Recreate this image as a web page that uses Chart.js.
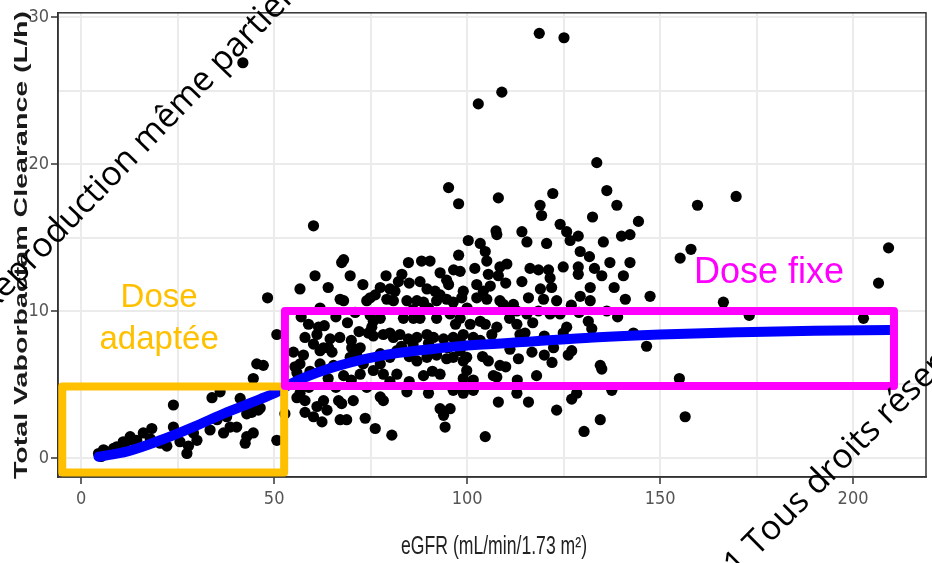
<!DOCTYPE html>
<html>
<head>
<meta charset="utf-8">
<script src="https://cdn.jsdelivr.net/npm/chart.js@4.4.1/dist/chart.umd.min.js"></script>
<style>
  html, body { margin: 0; padding: 0; background: #fff; }
  #canvas-container { width: 932px; height: 563px; }
</style>
</head>
<body>
<div id="canvas-container"><canvas id="mycanvas" width="932" height="563"></canvas></div>
<script>
// eGFR (mL/min/1.73 m2) and total clearance (L/h)
const egfr = [
  48.3, 50.7, 45.5, 47.2, 44.6, 33.9, 36.0, 23.9, 41.2, 46.4, 42.9, 44.2, 35.2, 37.7, 33.4, 36.9, 38.6, 29.1, 30.0, 27.4,
  27.8, 25.6, 23.9, 20.5, 17.9, 14.4, 12.7, 10.9, 8.4, 5.8, 4.5, 42.5, 42.9, 50.7, 44.6, 40.3, 22.2, 5.2, 43.8, 45.9,
  44.6, 18.3, 16.1, 13.5, 11.4, 9.2, 6.7, 52.8, 41.9,
  60.2, 97.8, 100.3, 68.0, 67.5, 60.6, 69.7, 56.7, 97.8, 84.8, 88.2, 90.4, 96.5, 98.2, 83.1, 82.2, 87.8, 94.7, 95.2, 77.5,
  80.0, 81.3, 89.6, 91.7, 93.0, 99.0, 98.6, 67.1, 68.0, 74.9, 76.2, 74.0, 79.2, 80.9, 84.4, 87.0, 88.7, 92.1, 94.7, 96.4,
  61.9, 58.9, 61.5, 61.1, 60.2, 64.5, 64.1, 65.0, 55.0, 57.6, 56.7, 55.4, 55.9, 59.3, 61.9, 61.9, 62.8, 70.1, 72.3, 71.4,
  69.7, 74.4, 75.7, 75.3, 75.7, 77.5, 74.9, 78.3, 80.0, 80.9, 82.6, 84.8, 87.0, 89.6, 91.3, 83.5, 86.1, 87.8, 92.1, 95.6,
  98.2, 93.9, 96.4, 98.2, 77.5, 80.0, 81.8, 87.0, 89.6, 92.1, 94.7, 96.4, 99.0, 72.3, 75.7, 73.1, 78.3, 81.8, 77.5, 88.7,
  93.0, 65.4, 68.0, 55.9, 58.0, 56.7, 58.0, 60.2, 61.1, 62.4, 62.8, 63.7, 66.7, 67.5, 67.1, 68.8, 70.5, 73.6, 76.2, 77.5,
  78.3, 80.5, 84.4, 90.0, 93.0, 93.9, 95.6, 94.3, 96.4, 99.0, 95.2,
  118.7, 125.1, 109.0, 102.9, 133.6, 108.1, 122.2, 136.2, 138.8, 118.9, 119.3, 132.5, 144.4, 107.5, 107.7, 114.2, 115.5, 124.1, 125.8, 126.7,
  120.6, 128.8, 135.3, 140.0, 142.2, 103.4, 104.7, 105.1, 129.3, 131.7, 142.2, 108.5, 110.3, 105.5, 108.1, 116.3, 118.5, 121.1, 121.5, 121.9,
  124.9, 128.8, 128.8, 114.2, 134.9, 140.5, 138.1, 102.5, 104.2, 102.5, 105.1, 108.5, 112.0, 115.9, 119.8, 123.2, 129.3, 131.9, 131.9, 147.4,
  136.2, 100.8, 103.4, 104.7, 99.0, 101.6, 103.4, 106.4, 107.7, 109.4, 112.9, 115.5, 112.9, 113.7, 115.0, 118.5, 121.5, 124.1, 125.8, 124.9,
  98.2, 99.9, 101.6, 99.0, 105.5, 108.5, 106.8, 107.7, 111.1, 113.3, 116.8, 122.4, 126.2, 127.1, 134.5, 134.9, 143.1, 146.5, 131.4, 132.3,
  108.1, 115.9, 112.9, 123.2, 127.1, 128.4, 104.7, 130.3, 134.5, 137.5, 101.6, 99.9,
  169.7, 159.7, 209.2, 158.0, 155.2, 206.6, 166.4, 173.1, 202.7, 155.0, 156.5,
  71.0, 73.0, 79.0, 85.0, 86.0, 90.0, 93.0, 72.0, 69.0, 66.0, 64.0, 63.0, 67.0, 70.0, 83.0, 85.0, 86.0, 90.0, 95.0, 97.0,
  91.0, 85.0, 80.0, 74.0, 70.0, 66.0, 64.0, 59.0, 57.0, 58.0, 100.0, 102.0, 106.0, 110.0, 111.0, 117.0, 119.0, 120.0, 122.0, 118.0,
  129.0, 127.0, 133.0, 137.0, 139.0, 141.0, 120.0, 110.0, 104.0, 113.0
];
const clearance = [
  10.9, 8.4, 6.4, 6.3, 5.4, 4.1, 4.5, 3.6, 4.05, 3.4, 3.0, 3.1, 2.6, 2.8, 1.9, 1.7, 2.1, 1.7, 1.2, 0.3,
  0.8, 1.1, 2.1, 1.0, 1.3, 1.2, 1.45, 1.1, 0.65, 0.55, 0.3, 1.0, 1.45, 1.2, 3.5, 2.1, 0.8, 0.1, 3.35, 3.25,
  1.7, 2.0, 1.7, 1.2, 1.0, 0.75, 0.4, 3.0, 26.9,
  15.8, 17.3, 14.8, 13.5, 13.3, 12.4, 12.4, 11.5, 13.8, 13.3, 13.4, 13.4, 12.8, 12.7, 12.5, 12.0, 12.0, 12.1, 11.8, 11.6,
  11.5, 11.35, 11.5, 11.35, 11.1, 11.35, 10.9, 10.8, 10.7, 10.9, 11.1, 10.7, 10.8, 10.7, 10.7, 10.7, 10.6, 10.7, 10.8, 10.6,
  10.2, 9.1, 8.9, 8.4, 7.75, 8.1, 7.5, 7.2, 7.2, 7.0, 6.4, 6.2, 5.8, 5.9, 6.4, 7.3, 7.5, 7.5, 7.5, 7.0,
  6.85, 8.5, 8.3, 8.9, 9.3, 9.5, 9.7, 8.4, 8.5, 8.2, 8.4, 8.1, 8.2, 8.4, 8.2, 9.5, 9.5, 9.5, 9.5, 9.8,
  9.5, 8.1, 8.2, 8.0, 7.1, 6.85, 7.3, 6.6, 6.85, 7.0, 6.75, 6.85, 6.6, 5.7, 5.95, 6.4, 5.7, 5.7, 6.4, 5.6,
  5.7, 6.3, 5.6, 4.1, 3.9, 4.4, 3.1, 2.8, 3.5, 2.45, 3.9, 3.25, 3.9, 3.7, 2.6, 2.6, 3.9, 2.7, 2.0, 4.15,
  3.9, 1.55, 4.5, 4.4, 3.35, 2.9, 3.35, 2.1, 4.6, 4.4, 18.4,
  28.9, 28.6, 24.9, 24.1, 20.1, 17.7, 18.0, 18.2, 17.2, 17.2, 16.5, 16.4, 16.1, 15.45, 15.2, 15.4, 14.7, 15.9, 15.4, 14.8,
  14.6, 15.1, 14.7, 15.1, 15.2, 14.6, 14.05, 13.4, 14.05, 13.7, 13.3, 13.0, 13.2, 12.5, 12.4, 12.9, 12.8, 12.8, 12.25, 11.6,
  13.0, 13.0, 12.5, 12.0, 12.4, 12.4, 11.6, 11.8, 11.35, 10.9, 10.8, 10.7, 10.45, 10.9, 10.8, 10.7, 11.0, 11.6, 10.7, 11.0,
  10.0, 9.1, 9.3, 9.1, 8.4, 8.2, 8.0, 8.4, 8.9, 10.45, 10.0, 9.8, 9.1, 8.4, 8.5, 10.0, 9.8, 9.8, 8.9, 8.5,
  7.3, 5.95, 5.3, 5.4, 6.6, 6.3, 5.6, 5.5, 7.4, 6.75, 7.2, 7.5, 7.0, 7.3, 6.3, 6.05, 8.5, 7.6, 9.3, 8.8,
  3.8, 3.8, 4.4, 3.25, 4.0, 4.4, 1.45, 1.8, 2.6, 4.6, 4.6, 6.85,
  17.8, 17.2, 14.3, 14.2, 13.6, 11.9, 10.6, 9.7, 9.5, 5.4, 2.8,
  9.9, 11.8, 12.4, 11.9, 10.1, 10.2, 12.6, 8.6, 9.2, 9.6, 11.6, 9.0, 8.2, 8.0, 7.6, 6.9, 7.7, 7.8, 7.5, 9.1,
  5.9, 5.2, 5.2, 4.8, 5.3, 4.8, 5.4, 4.8, 9.6, 8.2, 10.2, 12.9, 11.7, 11.9, 9.5, 9.2, 11.5, 8.3, 6.5, 5.6,
  9.9, 10.4, 12.9, 13.3, 9.6, 10.8, 7.0, 6.2, 6.9, 5.3
];

// smooth trend (blue curve)
const fitEgfr = [4.5, 12, 20.5, 29, 37.7, 46.4, 51.6, 54, 64.5, 77.5, 90.4, 100, 115.5, 132.7, 150, 170.7, 190, 209.5];
const fitClearance = [0.08, 0.45, 1.2, 2.1, 3.1, 4.0, 4.6, 5.0, 6.1, 6.95, 7.4, 7.65, 7.9, 8.2, 8.4, 8.55, 8.65, 8.7];

// grid lines and the subset that carries a label
const xGrid = [0, 25, 50, 75, 100, 125, 150, 175, 200];
const xLabels = [0, 50, 100, 150, 200];
const yGrid = [0, 5, 10, 15, 20, 25, 30];
const yLabels = [0, 10, 20, 30];

// the two dosing zones drawn over the plot
const bandNames = [["Dose", "adaptée"], ["Dose fixe"]];
const bandEgfr = [[-4.9, 52.6], [52.8, 210.6]];
const bandClearance = [[-1.0, 4.86], [4.9, 10.0]];

const narrow = "'Liberation Sans Narrow', 'DejaVu Sans Condensed', 'Arial Narrow', sans-serif";

const points = egfr.map((x, i) => ({ x: x, y: clearance[i] }));
const fit = fitEgfr.map((x, i) => ({ x: x, y: fitClearance[i] }));

const extras = {
  id: "extras",
  afterDatasetsDraw(chart) {
    const { ctx, chartArea: a, scales } = chart;
    const x = scales.x, y = scales.y;
    ctx.save();
    // panel frame
    ctx.strokeStyle = "#333333";
    ctx.lineWidth = 1.5;
    ctx.strokeRect(a.left, a.top, a.right - a.left, a.bottom - a.top);

    const colors = ["#ffc000", "#ff00ff"];
    bandNames.forEach((name, i) => {
      const l = x.getPixelForValue(bandEgfr[i][0]);
      const r = x.getPixelForValue(bandEgfr[i][1]);
      const t = y.getPixelForValue(bandClearance[i][1]);
      const b = y.getPixelForValue(bandClearance[i][0]);
      ctx.strokeStyle = colors[i];
      ctx.lineWidth = 8;
      ctx.lineJoin = "round";
      ctx.strokeRect(l, t, r - l, b - t);
    });

    ctx.textAlign = "center";
    ctx.textBaseline = "middle";
    ctx.fillStyle = colors[0];
    ctx.font = "33px 'Liberation Sans', Arial, sans-serif";
    ctx.fillText(bandNames[0][0], x.getPixelForValue(20.2), y.getPixelForValue(10.9));
    ctx.fillText(bandNames[0][1], x.getPixelForValue(20.2), y.getPixelForValue(8.0));
    ctx.fillStyle = colors[1];
    ctx.font = "36px 'Liberation Sans', Arial, sans-serif";
    ctx.fillText(bandNames[1][0], x.getPixelForValue(178.2), y.getPixelForValue(12.6));
    ctx.restore();
  },
  afterDraw(chart) {
    const ctx = chart.ctx;
    ctx.save();
    ctx.textAlign = "center";
    ctx.textBaseline = "middle";

    // y title, stretched like the source image
    ctx.save();
    ctx.translate(22, 245);
    ctx.rotate(-Math.PI / 2);
    ctx.font = "bold 19px 'Liberation Sans', Arial, sans-serif";
    const yt = "Total Vaborbactam Clearance (L/h)";
    ctx.scale(468 / ctx.measureText(yt).width, 1);
    ctx.fillStyle = "#1a1a1a";
    ctx.fillText(yt, 0, 0);
    ctx.restore();

    // x title
    ctx.save();
    ctx.translate(494, 547);
    ctx.font = "18px 'Liberation Sans', Arial, sans-serif";
    const xt = "eGFR (mL/min/1.73 m²)";
    ctx.scale(186 / ctx.measureText(xt).width, 1.4);
    ctx.fillStyle = "#222222";
    ctx.fillText(xt, 0, 0);
    ctx.restore();

    // watermark text across the picture
    ctx.textAlign = "left";
    ctx.textBaseline = "alphabetic";
    ctx.fillStyle = "#000000";
    ctx.font = "34px 'Open Sans', 'Noto Sans', sans-serif";
    ctx.save();
    ctx.translate(18, 286);
    ctx.rotate(-46 * Math.PI / 180);
    ctx.fillText("Reproduction même partielle interdite", -ctx.measureText("Re").width, 0);
    ctx.restore();
    ctx.save();
    ctx.translate(737, 577);
    ctx.rotate(-45 * Math.PI / 180);
    ctx.fillText("© 2021 Tous droits réservés", -ctx.measureText("© 202").width, 0);
    ctx.restore();
    ctx.restore();
  }
};

const canvas = document.getElementById("mycanvas");
const myChart = new Chart(canvas, {
  type: "scatter",
  data: {
    datasets: [
      {
        data: fit,
        showLine: true,
        borderColor: "#0000ff",
        borderWidth: 10,
        borderCapStyle: "round",
        pointRadius: 0,
        cubicInterpolationMode: "monotone",
        fill: false,
      },
      {
        data: points,
        backgroundColor: "#000000",
        borderWidth: 0,
        pointRadius: 5.6,
      },
    ],
  },
  options: {
    responsive: false,
    animation: false,
    devicePixelRatio: 1,
    layout: { padding: { top: 10, right: 6, left: 0, bottom: 0 } },
    plugins: {
      legend: { display: false },
      tooltip: { enabled: false },
    },
    scales: {
      x: {
        type: "linear",
        min: -6,
        max: 218.9,
        afterFit: (s) => { s.height = 86; },
        afterBuildTicks: (s) => { s.ticks = xGrid.map((v) => ({ value: v })); },
        ticks: {
          autoSkip: false,
          maxRotation: 0,
          padding: 5,
          color: "#555555",
          font: { family: narrow, size: 18 },
          callback: (v) => (xLabels.includes(v) ? String(v) : ""),
        },
        grid: {
          color: "#ebebeb",
          lineWidth: 2,
          tickLength: 7,
          tickWidth: 1.5,
          tickColor: (c) => (c.tick && xLabels.includes(c.tick.value) ? "#333333" : "rgba(0,0,0,0)"),
        },
        border: { color: "#333333", width: 1.5 },
      },
      y: {
        type: "linear",
        min: -1.3,
        max: 30.3,
        afterFit: (s) => { s.width = 58; },
        afterBuildTicks: (s) => { s.ticks = yGrid.map((v) => ({ value: v })); },
        ticks: {
          autoSkip: false,
          padding: 2,
          color: "#555555",
          font: { family: narrow, size: 18 },
          callback: (v) => (yLabels.includes(v) ? String(v) : ""),
        },
        grid: {
          color: "#ebebeb",
          lineWidth: 2,
          tickLength: 7,
          tickWidth: 1.5,
          tickColor: (c) => (c.tick && yLabels.includes(c.tick.value) ? "#333333" : "rgba(0,0,0,0)"),
        },
        border: { color: "#333333", width: 1.5 },
      },
    },
  },
  plugins: [extras],
});
</script>
</body>
</html>
